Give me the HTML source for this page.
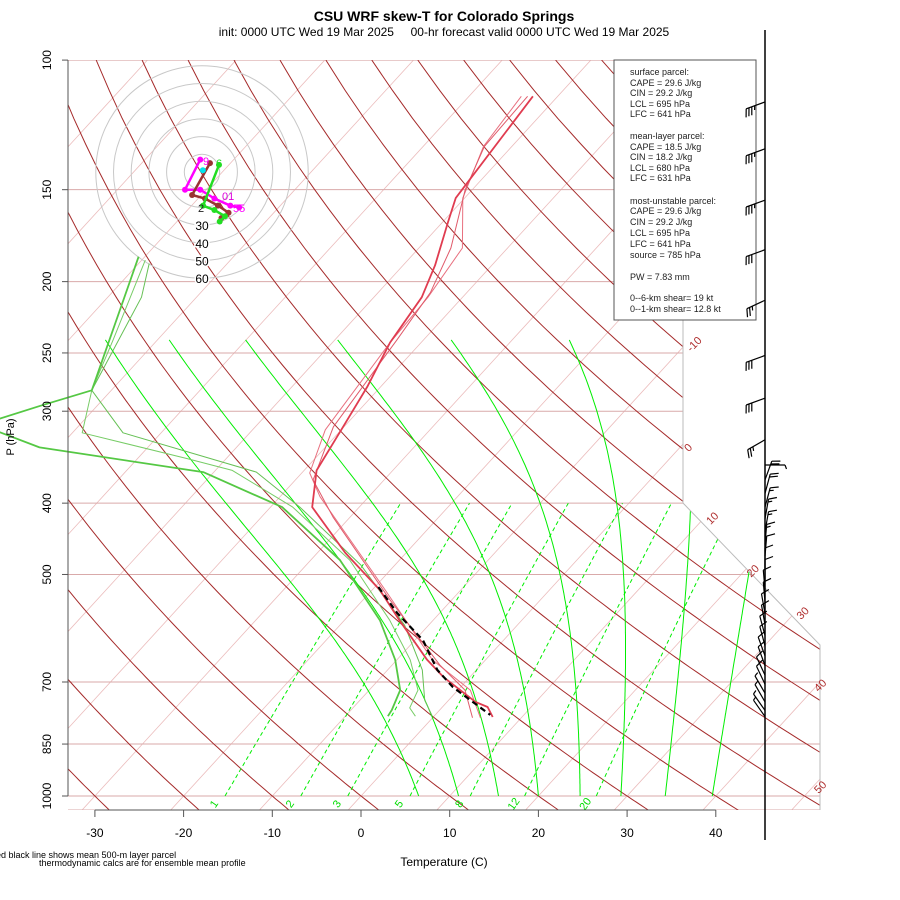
<!DOCTYPE html>
<html><head><meta charset="utf-8"><style>
html,body{margin:0;padding:0;background:#fff;}
svg{display:block;font-family:"Liberation Sans",sans-serif;}
</style></head><body>
<svg id="chart" width="900" height="900" viewBox="0 0 900 900">
<defs><clipPath id="frame"><path d="M68,60 L683,60 L683,503 L820,645 L820,810 L68,810 Z"/></clipPath>
<clipPath id="wide"><rect x="0" y="60" width="820" height="750"/></clipPath></defs>
<text x="444" y="21" text-anchor="middle" font-size="14" font-weight="bold">CSU WRF skew-T for Colorado Springs</text>
<text x="444" y="36" text-anchor="middle" font-size="12">init: 0000 UTC Wed 19 Mar 2025&#160;&#160;&#160;&#160;&#160;00-hr forecast valid 0000 UTC Wed 19 Mar 2025</text>
<g id="bg" clip-path="url(#frame)"></g>
<path d="M683,60 L683,503 L820,645 L820,810" fill="none" stroke="#bbb" stroke-width="1"/>
<g id="labels"></g>
<g id="hodo"></g>
<g id="prof" clip-path="url(#wide)"></g>
<g id="axes"></g>
<g id="legend">
<rect x="614" y="60" width="142" height="260" fill="#fff" stroke="#555" stroke-width="1"/>
<g font-size="9" fill="#222">
<text x="630" y="75">surface parcel:</text>
<text x="630" y="86">CAPE = 29.6 J/kg</text>
<text x="630" y="96">CIN = 29.2 J/kg</text>
<text x="630" y="107">LCL = 695 hPa</text>
<text x="630" y="117">LFC = 641 hPa</text>
<text x="630" y="139">mean-layer parcel:</text>
<text x="630" y="150">CAPE = 18.5 J/kg</text>
<text x="630" y="160">CIN = 18.2 J/kg</text>
<text x="630" y="171">LCL = 680 hPa</text>
<text x="630" y="181">LFC = 631 hPa</text>
<text x="630" y="204">most-unstable parcel:</text>
<text x="630" y="214">CAPE = 29.6 J/kg</text>
<text x="630" y="225">CIN = 29.2 J/kg</text>
<text x="630" y="236">LCL = 695 hPa</text>
<text x="630" y="247">LFC = 641 hPa</text>
<text x="630" y="258">source = 785 hPa</text>
<text x="630" y="280">PW =  7.83 mm</text>
<text x="630" y="301">0--6-km shear= 19 kt</text>
<text x="630" y="312">0--1-km shear= 12.8 kt</text>
</g></g>
<g id="barbs"></g>
<text x="444" y="866" text-anchor="middle" font-size="12">Temperature (C)</text>
<text x="14" y="437" text-anchor="middle" font-size="11" transform="rotate(-90 14 437)">P (hPa)</text>
<text x="-4" y="858" font-size="9">ed black line shows mean 500-m layer parcel</text>
<text x="39" y="866" font-size="9">thermodynamic calcs are for ensemble mean profile</text>
</svg>
<script>
// ---- data ----
const pressTicks = [100,150,200,250,300,400,500,700,850,1000];
const tempTicks = [-30,-20,-10,0,10,20,30,40];
const isoLabels = [-10,0,10,20,30,40,50];
const isoLabelP = [243,336,419,494,564,707,972];
const mixRatios = [1,2,3,5,8,12,20];
const moistStarts = [6.5,11,15.5,20,24.7,29.3,34.3,39.6];

const tMeanP = [112,154,166,190,210,242,278,315,361,405,467,525,577,653,689,745,757,781];
const tMeanT = [-52.8,-51.0,-49.4,-46.4,-44.6,-43.5,-41.5,-40.1,-38.6,-35.3,-26.9,-19.1,-13.8,-6.6,-3.0,3.2,5.1,6.7];
const tMemAP = [112,131,154,180,210,242,318,364,392,525,653,718,783];
const tMemAT = [-54.1,-53.2,-50.2,-45.1,-43.9,-43.5,-41.8,-39.1,-35.5,-18.5,-6.0,1.4,5.4];
const tMemBP = [112,131,150,180,207,240,315,372,418,542,664,718,783];
const tMemBT = [-53.4,-53.1,-50.8,-46.4,-44.1,-43.0,-41.2,-38.0,-31.9,-16.9,-4.6,0.8,4.5];

const tdMeanP = [185,281,295,313,336,363,405,478,577,653,718,764,779];
const tdMeanT = [-80.7,-72.2,-76.4,-81.2,-72.2,-51.2,-38.7,-26.7,-16.0,-10.2,-6.5,-5.4,-5.2];
const tdMemBP = [187,240,281,321,348,361,405,478,577,653,718,759,779];
const tdMemBT = [-79.6,-75.0,-72.2,-68.9,-54.4,-48.1,-37.5,-25.6,-14.9,-8.5,-4.5,-3.6,-2.1];
const tdMemCP = [189,210,281,321,363,405,485,586,674,741,779];
const tdMemCT = [-78.8,-76.2,-72.2,-64.3,-45.2,-36.7,-23.9,-12.7,-6.1,-2.7,-0.2];

const parcelP = [520,564,614,674,711,776];
const parcelT = [-19.6,-14.8,-9.1,-4.4,-0.9,6.2];

const windP = [114,132,155,181,212,252,288,328,355,372,388,405,420,437,455,472,490,508,525,545,565,585,605,625,645,665,685,705,725,745,765,780];
const windDir = [250,250,250,250,245,250,250,240,90,20,15,15,10,10,5,5,0,0,355,355,350,350,345,345,340,340,335,335,330,330,325,325];
const windSpd = [35,35,35,30,25,30,30,25,5,20,20,15,15,15,15,10,10,10,10,10,10,10,10,10,10,10,10,10,5,5,5,5];

const hodoMagU = [-1,-9.6,-1,7,16,21];
const hodoMagV = [7,-10,-10,-15,-19,-20];
const hodoBrnU = [4.5,-5.6,1.7,9,15,11];
const hodoBrnV = [5,-13,-15,-19,-23,-26];
const hodoGrnU = [9.6,0.6,7,13,10];
const hodoGrnV = [4,-19,-21.5,-25,-28];
const hodoRings = [10,20,30,40,50,60];

// ---- scales ----
function Y(p){return 796-319.6*Math.log(1000/p);}
function X(T,p){return 361+8.87*T+0.915*319.6*Math.log(1000/p);}
function HX(u){return 202+1.77*u;}
function HY(v){return 172-1.77*v;}
const NS='http://www.w3.org/2000/svg';
function mk(tag,parent){const e=document.createElementNS(NS,tag);parent.appendChild(e);return e;}
function pathFrom(ps,ts){return ps.map((p,i)=>(i?'L':'M')+X(ts[i],p).toFixed(1)+','+Y(p).toFixed(1)).join(' ');}
const bg=document.getElementById('bg');

for(let T=-120;T<=60;T+=10){
  const e=mk('path',bg);
  
  
  e.setAttribute('d','M'+X(T,1050)+','+Y(1050)+' L'+X(T,100)+','+Y(100));
  e.setAttribute('stroke','#ebbcbc');e.setAttribute('stroke-width','0.8');e.setAttribute('fill','none');
}
pressTicks.forEach(p=>{
  const e=mk('line',bg);
  
  
  e.setAttribute('x1',68);e.setAttribute('x2',820);e.setAttribute('y1',Y(p));e.setAttribute('y2',Y(p));
  e.setAttribute('stroke','#d9aaaa');e.setAttribute('stroke-width','1');
});
{const e=mk('line',bg);


e.setAttribute('x1',68);e.setAttribute('x2',820);e.setAttribute('y1',810);e.setAttribute('y2',810);e.setAttribute('stroke','#d9aaaa');}
for(let k=-2;k<=24;k++){
  const th=243.15+10*k;let d='';
  for(let p=1060;p>=95;p-=10){const T=th*Math.pow(p/1000,0.2857)-273.15;d+=(d?'L':'M')+X(T,p).toFixed(1)+','+Y(p).toFixed(1);}
  const e=mk('path',bg);
  
  
  e.setAttribute('d',d);e.setAttribute('stroke','#a52a2a');e.setAttribute('stroke-width','1');e.setAttribute('fill','none');
}
function es(Tc){return 6.112*Math.exp(17.67*Tc/(Tc+243.5));}
moistStarts.forEach(T0=>{
  let T=T0+273.15,d='';
  for(let p=1000;p>=240;p-=5){
    d+=(d?'L':'M')+X(T-273.15,p).toFixed(1)+','+Y(p).toFixed(1);
    const e_=es(T-273.15),rs=0.622*e_/(p-e_);
    const g=(287*T+2.5e6*rs)/(1004+2.5e6*2.5e6*rs*0.622/(287*T*T))/p;
    T-=g*5;
  }
  const e=mk('path',bg);
  
  
  e.setAttribute('d',d);e.setAttribute('stroke','#00ee00');e.setAttribute('stroke-width','1');e.setAttribute('fill','none');
});
function tdFromW(w,p){const e_=w*p/(622+w);const l=Math.log(e_/6.112);return 243.5*l/(17.67-l)+1.8;}
const lab=document.getElementById('labels');
mixRatios.forEach(w=>{
  const e=mk('path',bg);
  
  
  let d='';for(let p=1000;p>=400;p-=20){d+=(d?'L':'M')+X(tdFromW(w,p),p).toFixed(1)+','+Y(p).toFixed(1);}
  e.setAttribute('d',d);e.setAttribute('stroke','#00ee00');e.setAttribute('stroke-dasharray','4,3');e.setAttribute('fill','none');
  const t=mk('text',lab);
  
  
  const x=X(tdFromW(w,1000),1000)-8,y=806;
  t.setAttribute('x',x);t.setAttribute('y',y);t.setAttribute('fill','#00dd00');t.setAttribute('font-size','11');
  t.setAttribute('text-anchor','middle');t.setAttribute('transform','rotate(-55 '+x+' '+y+')');t.textContent=w;
});
isoLabels.forEach((T,i)=>{
  const p=isoLabelP[i];const x=Math.min(X(T,p),812)+8,y=Y(p);
  const t=mk('text',lab);
  
  
  t.setAttribute('x',x);t.setAttribute('y',y+4);t.setAttribute('fill','#b03030');t.setAttribute('font-size','11');
  t.setAttribute('text-anchor','middle');t.setAttribute('transform','rotate(-45 '+x+' '+y+')');t.textContent=T;
});

const ax=document.getElementById('axes');
{const e=mk('line',ax);


e.setAttribute('x1',68);e.setAttribute('x2',68);e.setAttribute('y1',Y(100));e.setAttribute('y2',Y(1000));e.setAttribute('stroke','#555');}
pressTicks.forEach(p=>{
  const e=mk('line',ax);
  
  
  e.setAttribute('x1',62);e.setAttribute('x2',68);e.setAttribute('y1',Y(p));e.setAttribute('y2',Y(p));e.setAttribute('stroke','#555');
  const t=mk('text',ax);
  
  
  t.setAttribute('x',51);t.setAttribute('y',Y(p));t.setAttribute('font-size','12');t.setAttribute('text-anchor','middle');
  t.setAttribute('transform','rotate(-90 51 '+Y(p)+')');t.textContent=p;
});
{const e=mk('line',ax);


e.setAttribute('x1',X(-30,1000));e.setAttribute('x2',X(40,1000));e.setAttribute('y1',810);e.setAttribute('y2',810);e.setAttribute('stroke','#555');}
tempTicks.forEach(T=>{
  const x=X(T,1000);
  const e=mk('line',ax);
  
  
  e.setAttribute('x1',x);e.setAttribute('x2',x);e.setAttribute('y1',810);e.setAttribute('y2',817);e.setAttribute('stroke','#555');
  const t=mk('text',ax);
  
  
  t.setAttribute('x',x);t.setAttribute('y',837);t.setAttribute('font-size','12');t.setAttribute('text-anchor','middle');t.textContent=T;
});

const ho=document.getElementById('hodo');
hodoRings.forEach(r=>{
  const c=mk('circle',ho);
  
  
  c.setAttribute('cx',202);c.setAttribute('cy',172);c.setAttribute('r',r*1.77);c.setAttribute('fill','none');c.setAttribute('stroke','#c8c8c8');
  if(r>=30){const t=mk('text',ho);
    
    
    t.setAttribute('x',202);t.setAttribute('y',172+r*1.77+5);t.setAttribute('font-size','12');t.setAttribute('text-anchor','middle');
    t.setAttribute('stroke','#fff');t.setAttribute('stroke-width','3');t.setAttribute('paint-order','stroke');t.textContent=r;}
});
function hodoTrace(us,vs,col,name){
  const e=mk('path',ho);
  
  
  e.setAttribute('d',us.map((u,i)=>(i?'L':'M')+HX(u)+','+HY(vs[i])).join(' '));
  e.setAttribute('stroke',col);e.setAttribute('stroke-width','2.5');e.setAttribute('fill','none');
  us.forEach((u,i)=>{const c=mk('circle',ho);
    
    
    c.setAttribute('cx',HX(u));c.setAttribute('cy',HY(vs[i]));c.setAttribute('r',3);c.setAttribute('fill',col);});
}
hodoTrace(hodoMagU,hodoMagV,'#ff00ff','hodograph-magenta');
hodoTrace(hodoBrnU,hodoBrnV,'#993333','hodograph-brown');
hodoTrace(hodoGrnU,hodoGrnV,'#22dd22','hodograph-green');
{const c=mk('circle',ho);


c.setAttribute('cx',HX(0.5));c.setAttribute('cy',HY(1));c.setAttribute('r',3);c.setAttribute('fill','#00e5ee');}
[['01',222,200,'#dd00dd'],['55',233,212,'#ff00ff'],['2',198,212,'#222'],['6',216,167,'#22dd22'],['9',203,165,'#ff00ff']].forEach(a=>{
  const t=mk('text',ho);
  
  
  t.setAttribute('x',a[1]);t.setAttribute('y',a[2]);t.setAttribute('font-size','11');t.setAttribute('fill',a[3]);t.textContent=a[0];
});

const pr=document.getElementById('prof');
function prof(ps,ts,col,w,name,dash){
  const e=mk('path',pr);
  
  
  e.setAttribute('d',pathFrom(ps,ts));e.setAttribute('stroke',col);e.setAttribute('stroke-width',w);e.setAttribute('fill','none');
  e.setAttribute('stroke-linejoin','round');if(dash)e.setAttribute('stroke-dasharray',dash);
}
prof(tdMemBP,tdMemBT,'#77cc66',1,'dewpoint-member-b');
prof(tdMemCP,tdMemCT,'#66c055',1,'dewpoint-member-c');
prof(tdMeanP,tdMeanT,'#55c844',1.8,'dewpoint-mean');
prof(tMemAP,tMemAT,'#e8707f',1,'temperature-member-a');
prof(tMemBP,tMemBT,'#e05a6a',1,'temperature-member-b');
prof(tMeanP,tMeanT,'#e03c50',1.8,'temperature-mean');
prof(parcelP,parcelT,'#000',2.2,'parcel-path','6,4');

const bb=document.getElementById('barbs');
{const e=mk('line',bb);


e.setAttribute('x1',765);e.setAttribute('x2',765);e.setAttribute('y1',30);e.setAttribute('y2',840);e.setAttribute('stroke','#000');e.setAttribute('stroke-width','1.5');}
windP.forEach((p,i)=>{
  const d=windDir[i]*Math.PI/180,s=windSpd[i],L=20;
  const x0=765,y0=Y(p),dx=Math.sin(d),dy=-Math.cos(d);
  const x1=x0+L*dx,y1=y0+L*dy;
  let dd='M'+x0+','+y0+' L'+x1.toFixed(1)+','+y1.toFixed(1);
  const sg=(windDir[i]>=180&&windDir[i]<300)?-1:1;
  const bx=-dy*sg,by=dx*sg;
  let n=Math.floor(s/10),half=(s%10)>=5,pos=0;
  for(let k=0;k<n;k++){const px=x1-dx*pos*3,py=y1-dy*pos*3;
    dd+=' M'+px.toFixed(1)+','+py.toFixed(1)+' L'+(px+bx*8+dx*3).toFixed(1)+','+(py+by*8+dy*3).toFixed(1);pos++;}
  if(half){const px=x1-dx*pos*3,py=y1-dy*pos*3;
    dd+=' M'+px.toFixed(1)+','+py.toFixed(1)+' L'+(px+bx*4+dx*1.5).toFixed(1)+','+(py+by*4+dy*1.5).toFixed(1);}
  const e=mk('path',bb);
  
  
  e.setAttribute('d',dd);e.setAttribute('stroke','#000');e.setAttribute('stroke-width','1.2');e.setAttribute('fill','none');
});
</script>
</body></html>
